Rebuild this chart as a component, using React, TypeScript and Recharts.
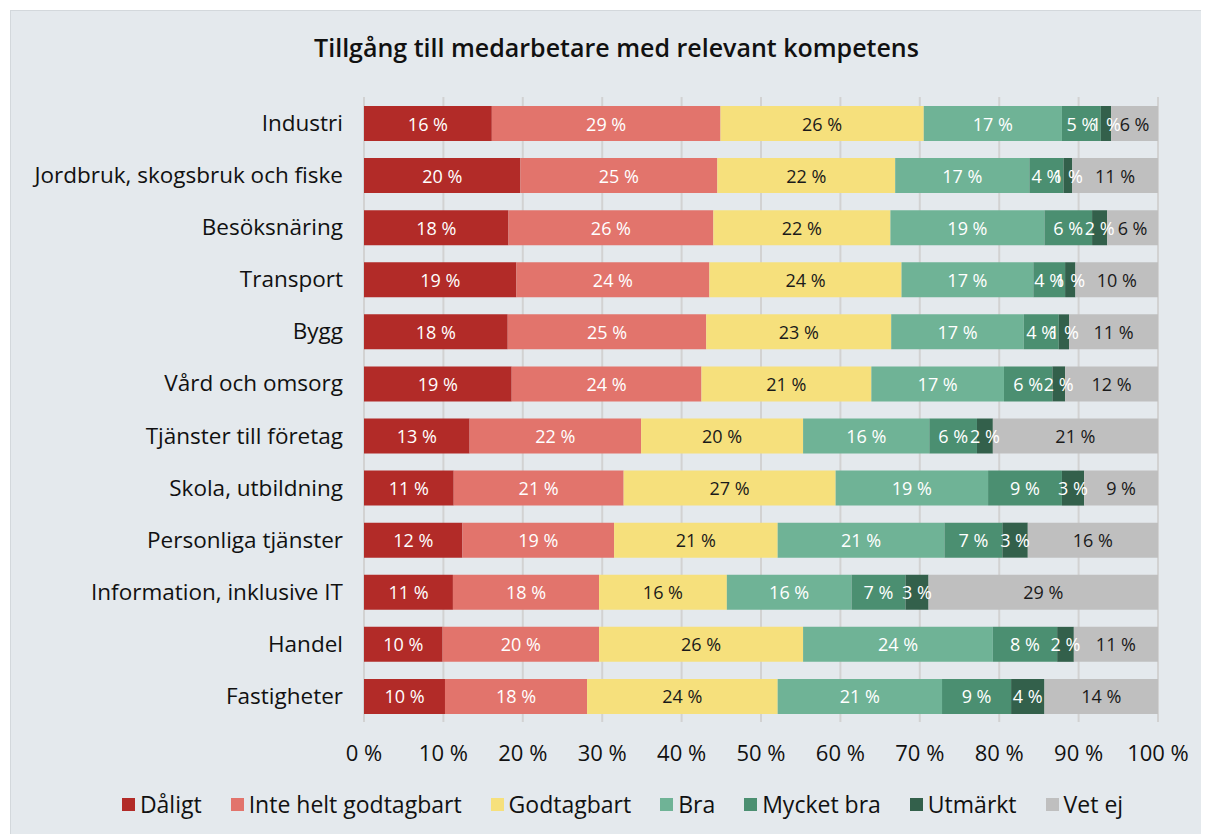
import { BarChart, Bar, XAxis, YAxis, CartesianGrid, LabelList, Legend } from "recharts";

const categories = [
  "Industri",
  "Jordbruk, skogsbruk och fiske",
  "Besöksnäring",
  "Transport",
  "Bygg",
  "Vård och omsorg",
  "Tjänster till företag",
  "Skola, utbildning",
  "Personliga tjänster",
  "Information, inklusive IT",
  "Handel",
  "Fastigheter",
];

const daligt = [16.1, 19.7, 18.2, 19.2, 18.1, 18.6, 13.3, 11.3, 12.4, 11.2, 9.9, 10.2];
const inteHelt = [28.8, 24.8, 25.8, 24.3, 25.0, 23.9, 21.6, 21.4, 19.1, 18.4, 19.7, 17.9];
const godtagbart = [25.6, 22.4, 22.3, 24.2, 23.3, 21.4, 20.4, 26.7, 20.6, 16.1, 25.7, 24.0];
const bra = [17.4, 16.9, 19.4, 16.6, 16.7, 16.7, 15.9, 19.2, 21.0, 15.7, 23.9, 20.7];
const mycketBra = [4.9, 4.3, 6.0, 4.0, 4.4, 6.1, 6.0, 9.3, 7.3, 6.8, 8.1, 8.7];
const utmarkt = [1.3, 1.1, 1.9, 1.3, 1.3, 1.6, 2.0, 2.8, 3.2, 2.9, 2.1, 4.2];
const vetEj = [6.0, 10.8, 6.4, 10.4, 11.2, 11.7, 20.9, 9.3, 16.4, 28.9, 10.6, 14.3];

const xTicks = [0, 10, 20, 30, 40, 50, 60, 70, 80, 90, 100];

const series = [
  { key: "Dåligt", values: daligt, color: "#b22b28", text: "#ffffff" },
  { key: "Inte helt godtagbart", values: inteHelt, color: "#e2746c", text: "#ffffff" },
  { key: "Godtagbart", values: godtagbart, color: "#f6e07c", text: "#1a1a1a" },
  { key: "Bra", values: bra, color: "#6fb396", text: "#ffffff" },
  { key: "Mycket bra", values: mycketBra, color: "#4b8f71", text: "#ffffff" },
  { key: "Utmärkt", values: utmarkt, color: "#33604b", text: "#ffffff" },
  { key: "Vet ej", values: vetEj, color: "#bfbfbf", text: "#1a1a1a" },
];

const data = categories.map((name, i) => {
  const row: { [k: string]: string | number } = { name };
  series.forEach((s) => { row[s.key] = s.values[i]; });
  return row;
});

const FONT = "'Open Sans', sans-serif";
const pct = (v: number) => `${Math.round(v)} %`;

// plain text label, centred in the segment, never wrapped
const segLabel = (fill: string) => (props: any) => {
  const { x, y, width, height, value } = props;
  return (
    <text
      x={Number(x) + Number(width) / 2}
      y={Number(y) + Number(height) / 2}
      textAnchor="middle"
      dominantBaseline="central"
      fill={fill}
      fontSize={18}
      fontFamily={FONT}
    >
      {pct(Number(value))}
    </text>
  );
};

const LegendContent = () => (
  <div style={{ display: "flex", justifyContent: "center", alignItems: "center", height: 26, fontFamily: FONT, fontSize: 23, color: "#111", paddingLeft: 76 }}>
    {series.map((s, i) => (
      <div key={s.key} style={{ display: "flex", alignItems: "center", marginRight: i === series.length - 1 ? 0 : 29 }}>
        <span style={{ width: 13, height: 13, background: s.color, display: "inline-block", marginRight: 5 }} />
        <span>{s.key}</span>
      </div>
    ))}
  </div>
);

export default function App() {
  return (
    <div style={{ position: "relative", marginLeft: 2, marginTop: 2, width: 1199, height: 824, background: "#e4e9ed", borderTop: "1px solid #d3d8dc", borderLeft: "1px solid #d3d8dc", boxSizing: "border-box", fontFamily: FONT }}>
      <div style={{ position: "absolute", top: 19, left: 6, width: 1199, textAlign: "center", fontSize: 25, fontWeight: 600, color: "#111" }}>
        Tillgång till medarbetare med relevant kompetens
      </div>
      <BarChart
        width={1199}
        height={824}
        data={data}
        layout="vertical"
        barSize={35}
        margin={{ top: 86, right: 52, bottom: 18, left: 0 }}
        style={{ fontFamily: FONT }}
      >
        <CartesianGrid horizontal={false} vertical stroke="#d2d2d2" strokeWidth={2} />
        <XAxis
          type="number"
          domain={[0, 100]}
          ticks={xTicks}
          allowDataOverflow
          tickFormatter={(v: number) => `${v} %`}
          axisLine={false}
          tickLine={false}
          tickMargin={17}
          height={69}
          tick={{ fontSize: 22, fill: "#111" }}
        />
        <YAxis
          type="category"
          dataKey="name"
          width={353}
          axisLine={false}
          tickLine={false}
          tickMargin={15}
          interval={0}
          tick={{ fontSize: 22.5, fill: "#111" }}
        />
        <Legend verticalAlign="bottom" content={<LegendContent />} />
        {series.map((s) => (
          <Bar key={s.key} dataKey={s.key} stackId="a" fill={s.color} isAnimationActive={false}>
            <LabelList dataKey={s.key} content={segLabel(s.text)} />
          </Bar>
        ))}
      </BarChart>
    </div>
  );
}
